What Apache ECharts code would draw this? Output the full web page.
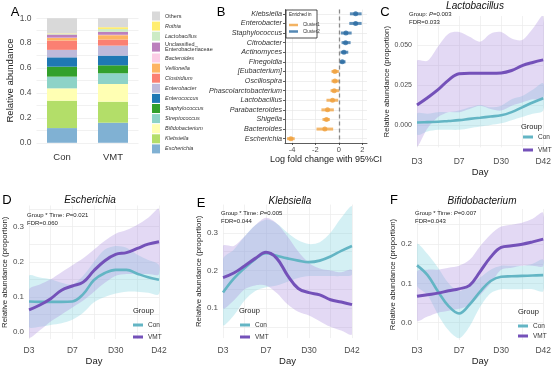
<!DOCTYPE html>
<html><head><meta charset="utf-8">
<script src="https://cdn.jsdelivr.net/npm/echarts@6/dist/echarts.min.js"></script>
<style>html,body{margin:0;padding:0;background:#fff}#c{width:554px;height:367px}</style>
</head><body><div id="c"></div>
<script>
// ---------- Panel A: stacked composition ----------
const groupsA = ['Con', 'VMT'];
const taxaA = ['Escherichia','Klebsiella','Bifidobacterium','Streptococcus','Staphylococcus','Enterococcus','Enterobacter','Clostridium','Veillonella','Bacteroides','Unclassified_Enterobacteriaceae','Lactobacillus','Rothia','Others'];
const conA = [0.118,0.220,0.099,0.094,0.080,0.075,0.060,0.075,0.020,0.003,0.025,0.004,0.005,0.122];
const vmtA = [0.161,0.169,0.142,0.086,0.064,0.078,0.080,0.049,0.035,0.003,0.024,0.022,0.015,0.072];
const paletteA = ['#80b1d3','#b3de69','#ffffb3','#8dd3c7','#33a02c','#1f78b4','#bebada','#fb8072','#fdb462','#fccde5','#bc80bd','#ccebc5','#ffed6f','#d9d9d9'];

// ---------- Panel B: log fold change ----------
const taxaB = ['Klebsiella','Enterobacter','Staphylococcus','Citrobacter','Actinomyces','Finegoldia','[Eubacterium]','Oscillospira','Phascolarctobacterium','Lactobacillus','Parabacteroides','Shigella','Bacteroides','Escherichia'];
const lfcB  = [1.43,1.43,0.60,0.57,0.43,0.29,-0.34,-0.34,-0.40,-0.54,-0.97,-1.06,-1.20,-4.10];
const lowB  = [0.94,0.89,0.17,0.23,0.14,0.03,-0.63,-0.63,-0.71,-1.06,-1.49,-1.40,-1.91,-4.43];
const highB = [1.94,1.94,1.09,1.00,0.80,0.57,0.00,0.03,0.03,-0.06,-0.43,-0.77,-0.49,-3.77];
const clusterB = ['Cluster2','Cluster2','Cluster2','Cluster2','Cluster2','Cluster2','Cluster1','Cluster1','Cluster1','Cluster1','Cluster1','Cluster1','Cluster1','Cluster1'];
const ticksB = [-4,-2,0,2];

// ---------- Panels C-F: smoothed trajectories ----------
const days = ['D3','D7','D30','D42'];
const xRead = [0,0.25,0.5,0.75,1,1.25,1.5,1.75,2,2.25,2.5,2.75,3];

const cConMean = [0.0015,0.0018,0.002,0.0025,0.003,0.0038,0.0045,0.0053,0.006,0.008,0.011,0.014,0.0167];
const cConLow  = [-0.006,-0.004,-0.003,-0.003,-0.003,-0.002,-0.001,0.000,0.001,0.003,0.005,0.007,0.009];
const cConHigh = [0.007,0.007,0.008,0.008,0.009,0.011,0.0125,0.011,0.012,0.016,0.018,0.022,0.026];
const cVmtMean = [0.0125,0.017,0.022,0.028,0.032,0.0323,0.0323,0.0323,0.0325,0.034,0.037,0.039,0.0406];
const cVmtLow  = [-0.013,-0.002,0.005,0.008,0.008,0.010,0.012,0.010,0.009,0.012,0.014,0.016,0.016];
const cVmtHigh = [0.040,0.040,0.049,0.057,0.058,0.055,0.052,0.057,0.058,0.054,0.053,0.060,0.068];

const dConMean = [0.087,0.086,0.086,0.086,0.087,0.108,0.148,0.168,0.177,0.177,0.166,0.156,0.149];
const dConLow  = [0.015,0.015,0.020,0.025,0.035,0.055,0.085,0.100,0.110,0.115,0.115,0.112,0.108];
const dConHigh = [0.160,0.155,0.150,0.140,0.135,0.160,0.200,0.235,0.245,0.240,0.220,0.205,0.190];
const dVmtMean = [0.063,0.077,0.095,0.119,0.131,0.142,0.175,0.203,0.221,0.226,0.238,0.250,0.257];
const dVmtLow  = [-0.015,0.005,0.030,0.050,0.070,0.090,0.115,0.140,0.160,0.165,0.165,0.165,0.165];
const dVmtHigh = [0.120,0.135,0.150,0.170,0.190,0.210,0.235,0.260,0.280,0.290,0.305,0.325,0.350];

const eConMean = [0.141,0.178,0.206,0.230,0.246,0.239,0.232,0.226,0.222,0.226,0.237,0.252,0.265];
const eConLow  = [0.055,0.080,0.120,0.145,0.155,0.160,0.170,0.180,0.185,0.185,0.185,0.185,0.190];
const eConHigh = [0.230,0.255,0.290,0.320,0.335,0.325,0.300,0.280,0.270,0.275,0.300,0.340,0.370];
const eVmtMean = [0.181,0.193,0.212,0.232,0.248,0.232,0.187,0.152,0.141,0.135,0.122,0.116,0.109];
const eVmtLow  = [0.100,0.120,0.150,0.160,0.160,0.140,0.110,0.090,0.080,0.065,0.050,0.040,0.030];
const eVmtHigh = [0.265,0.265,0.290,0.320,0.340,0.325,0.290,0.250,0.220,0.205,0.200,0.195,0.200];

const fConMean = [0.146,0.121,0.079,0.042,0.023,0.046,0.079,0.106,0.117,0.118,0.119,0.120,0.121];
const fConLow  = [0.095,0.070,0.020,-0.020,-0.040,-0.010,0.040,0.075,0.085,0.085,0.085,0.085,0.080];
const fConHigh = [0.200,0.175,0.140,0.100,0.080,0.095,0.115,0.135,0.145,0.145,0.145,0.150,0.160];
const fVmtMean = [0.067,0.071,0.075,0.081,0.086,0.095,0.130,0.167,0.192,0.196,0.200,0.206,0.213];
const fVmtLow  = [0.005,0.015,0.025,0.030,0.035,0.045,0.070,0.100,0.135,0.140,0.145,0.145,0.145];
const fVmtHigh = [0.130,0.135,0.135,0.140,0.145,0.160,0.195,0.225,0.245,0.250,0.255,0.265,0.280];

// ---------- styles ----------
const FONT = 'Liberation Sans, Arial, sans-serif';
const CON = '#63b5c4', VMTC = '#7451b9';
const CON_BAND = 'rgba(120,208,222,0.32)', VMT_BAND = 'rgba(168,138,220,0.32)';
const ORANGE = '#f0a03c', BLUE = '#2b6ca3';
const GRIDC = '#ebebeb';

const chart = echarts.init(document.getElementById('c'), null, {renderer: 'canvas'});

const panels = {
  C: {g: 2, left: 417, width: 128, top: 16, height: 131.4, min: -0.014, max: 0.068, major: [0, 0.025, 0.05], minor: [-0.0125, 0.0125, 0.0375, 0.0625], dec: 3, ylfs: 7, lm: 10, dayGap: 15, nameGap: 24},
  D: {g: 3, left: 28, width: 131, top: 205.5, height: 135.6, min: -0.02, max: 0.36, major: [0, 0.1, 0.2, 0.3], minor: [0.05, 0.15, 0.25, 0.35], dec: 1, ylfs: 8, lm: 7, dayGap: 14, nameGap: 18},
  E: {g: 4, left: 223, width: 129, top: 204.6, height: 136, min: 0.02, max: 0.375, major: [0.1, 0.2, 0.3], minor: [0.05, 0.15, 0.25, 0.35], dec: 1, ylfs: 8, lm: 8, dayGap: 14, nameGap: 18},
  F: {g: 5, left: 417, width: 128, top: 209, height: 134, min: -0.045, max: 0.29, major: [0, 0.1, 0.2], minor: [0.05, 0.15, 0.25], dec: 1, ylfs: 8, lm: 6, dayGap: 12, nameGap: 17}
};

const grids = [
  {left: 36.5, width: 102, top: 12, height: 137},
  {left: 285, width: 82, top: 9.5, height: 133.5}
];
const xAxes = [
  {gridIndex: 0, type: 'category', data: groupsA, axisLine: {show: false}, axisTick: {show: false},
   axisLabel: {fontSize: 9.5, color: '#333', margin: 3, fontFamily: FONT}, splitLine: {show: false}},
  {gridIndex: 1, type: 'value', min: -4.6, max: 2.4,
   axisLabel: {customValues: ticksB, fontSize: 7.5, color: '#4d4d4d', margin: 3, fontFamily: FONT},
   axisTick: {customValues: ticksB, length: 2, lineStyle: {color: '#333', width: 0.8}},
   axisLine: {show: true, onZero: false, lineStyle: {color: '#333', width: 0.8}},
   splitLine: {show: true, lineStyle: {color: '#e4e4e4', width: 0.6}},
   name: 'Log fold change with 95%CI', nameLocation: 'middle', nameGap: 11,
   nameTextStyle: {fontSize: 9, color: '#222', fontFamily: FONT}}
];
const yAxes = [
  {gridIndex: 0, type: 'value', min: -0.05, max: 1.05,
   axisLabel: {customValues: [0, 0.2, 0.4, 0.6, 0.8, 1], formatter: v => v.toFixed(1), fontSize: 8.5, color: '#4d4d4d', margin: 5, fontFamily: FONT},
   axisTick: {show: false, customValues: [0, 0.1, 0.2, 0.3, 0.4, 0.5, 0.6, 0.7, 0.8, 0.9, 1]},
   axisLine: {show: false}, splitLine: {show: true, lineStyle: {color: GRIDC, width: 0.7}},
   name: 'Relative abundance', nameLocation: 'middle', nameGap: 18,
   nameTextStyle: {fontSize: 9.5, color: '#222', fontFamily: FONT}},
  {gridIndex: 1, type: 'value', inverse: true, min: 0.55, max: 14.45,
   axisLabel: {customValues: taxaB.map((_, i) => i + 1), formatter: v => taxaB[Math.round(v) - 1],
               fontSize: 7.2, fontStyle: 'italic', color: '#333', margin: 3, fontFamily: FONT},
   axisTick: {customValues: taxaB.map((_, i) => i + 1), length: 2, lineStyle: {color: '#333', width: 0.8}},
   axisLine: {show: true, onZero: false, lineStyle: {color: '#333', width: 0.8}},
   splitLine: {show: true, lineStyle: {color: '#e4e4e4', width: 0.6}}}
];

Object.keys(panels).forEach(k => {
  const p = panels[k];
  grids.push({left: p.left, width: p.width, top: p.top, height: p.height});
  xAxes.push({gridIndex: p.g, type: 'value', min: 0, max: 3,
    axisLabel: {customValues: [0, 1, 2, 3], formatter: v => days[Math.round(v)], fontSize: 8.5, color: '#4d4d4d', margin: p.lm, fontFamily: FONT},
    axisTick: {show: false, customValues: [0, 0.5, 1, 1.5, 2, 2.5, 3]},
    axisLine: {show: false}, splitLine: {show: true, lineStyle: {color: GRIDC, width: 0.7}},
    name: 'Day', nameLocation: 'middle', nameGap: p.dayGap, nameTextStyle: {fontSize: 9.5, color: '#222', fontFamily: FONT}});
  yAxes.push({gridIndex: p.g, type: 'value', min: p.min, max: p.max,
    axisLabel: {customValues: p.major, formatter: v => v.toFixed(p.dec), fontSize: p.ylfs, color: '#4d4d4d', margin: 5, fontFamily: FONT},
    axisTick: {show: false, customValues: p.major.concat(p.minor).sort((a, b) => a - b)},
    axisLine: {show: false}, splitLine: {show: true, lineStyle: {color: GRIDC, width: 0.7}},
    name: 'Relative abundance (proportion)', nameLocation: 'middle', nameGap: p.nameGap,
    nameTextStyle: {fontSize: 7.8, color: '#222', fontFamily: FONT}});
});

const series = [];
taxaA.forEach((t, i) => {
  series.push({type: 'bar', name: t, stack: 'A', xAxisIndex: 0, yAxisIndex: 0, barWidth: 30,
    data: [conA[i], vmtA[i]], itemStyle: {color: paletteA[i]}, color: paletteA[i], silent: true});
});
['Cluster1', 'Cluster2'].forEach(cl => {
  const col = cl === 'Cluster1' ? ORANGE : BLUE;
  const rows = [];
  taxaB.forEach((t, i) => { if (clusterB[i] === cl) rows.push([lfcB[i], i + 1, lowB[i], highB[i]]); });
  series.push({type: 'custom', name: cl + ' CI', xAxisIndex: 1, yAxisIndex: 1, silent: true,
    encode: {x: [0, 2, 3], y: 1}, data: rows,
    renderItem: (params, api) => {
      const y = api.value(1);
      const a = api.coord([api.value(2), y]);
      const b = api.coord([api.value(3), y]);
      return {type: 'line', shape: {x1: a[0], y1: a[1], x2: b[0], y2: b[1]},
              style: {stroke: col, lineWidth: 3, opacity: 0.75, lineCap: 'butt'}};
    }});
  series.push({type: 'scatter', name: cl, xAxisIndex: 1, yAxisIndex: 1, symbol: 'circle', symbolSize: 5,
    data: rows.map(r => [r[0], r[1]]), itemStyle: {color: col}, color: col, silent: true,
    markLine: cl === 'Cluster1' ? {silent: true, symbol: 'none', label: {show: false},
      lineStyle: {color: '#8a8a8a', type: [4, 3], width: 1.3}, data: [{xAxis: 0}]} : undefined});
});
function addBand(g, lo, hi, color) {
  series.push({type: 'custom', xAxisIndex: g, yAxisIndex: g, silent: true, clip: true,
    encode: {x: 0, y: [1, 2]},
    data: xRead.map((x, i) => [x, lo[i], hi[i]]),
    renderItem: (params, api) => {
      if (params.dataIndexInside !== 0) return null;
      const n = xRead.length, pts = [];
      for (let j = 0; j < n; j++) pts.push(api.coord([api.value(0, j), api.value(2, j)]));
      for (let j = n - 1; j >= 0; j--) pts.push(api.coord([api.value(0, j), api.value(1, j)]));
      return {type: 'polygon', shape: {points: pts, smooth: 0.3}, style: {fill: color}};
    }});
}
function addLine(name, g, mean, color, w) {
  series.push({type: 'line', name: name, xAxisIndex: g, yAxisIndex: g, data: xRead.map((x, i) => [x, mean[i]]),
    symbol: 'none', smooth: 0.4, color: color, itemStyle: {color: color}, lineStyle: {color: color, width: w}, silent: true});
}
const lineSets = {
  C: [cConMean, cConLow, cConHigh, cVmtMean, cVmtLow, cVmtHigh],
  D: [dConMean, dConLow, dConHigh, dVmtMean, dVmtLow, dVmtHigh],
  E: [eConMean, eConLow, eConHigh, eVmtMean, eVmtLow, eVmtHigh],
  F: [fConMean, fConLow, fConHigh, fVmtMean, fVmtLow, fVmtHigh]
};
Object.keys(lineSets).forEach(k => {
  const g = panels[k].g, s = lineSets[k];
  addBand(g, s[1], s[2], CON_BAND);
  addBand(g, s[4], s[5], VMT_BAND);
});
Object.keys(lineSets).forEach(k => {
  const g = panels[k].g, s = lineSets[k];
  addLine('Con', g, s[0], CON, 2.6);
  addLine('VMT', g, s[3], VMTC, 3);
});

const legA = {
  data: taxaA.slice().reverse(), orient: 'vertical', left: 152, top: 11.5, itemWidth: 8, itemHeight: 9, itemGap: 1.1,
  icon: 'rect', selectedMode: false, padding: 0,
  formatter: n => n === 'Others' ? '{n|Others}' : (n.indexOf('Unclassified') === 0 ? '{n|Unclassified_}\n{n|Enterobacteriaceae}' : '{i|' + n + '}'),
  textStyle: {fontSize: 5.5, color: '#333', lineHeight: 4.6, fontFamily: FONT,
    rich: {n: {fontSize: 5.5, lineHeight: 4.6, color: '#333', fontFamily: FONT}, i: {fontSize: 5.5, lineHeight: 4.6, fontStyle: 'italic', color: '#333', fontFamily: FONT}}}
};
const legB = {
  data: ['Cluster1', 'Cluster2'], orient: 'vertical', left: 289, top: 22.5, itemWidth: 9, itemHeight: 2.5, itemGap: 1.5,
  icon: 'rect', selectedMode: false, padding: 0, z: 6,
  textStyle: {fontSize: 4.5, color: '#333', lineHeight: 5, fontFamily: FONT}
};
function legLine(left, top, gap) {
  return {data: ['Con', 'VMT'], orient: 'vertical', left: left, top: top, itemWidth: 10, itemHeight: 3, itemGap: gap,
    icon: 'rect', selectedMode: false, padding: 0,
    textStyle: {fontSize: 6.5, color: '#333', lineHeight: 8, fontFamily: FONT}};
}
const legends = [legA, legB, legLine(523, 133, 5), legLine(133, 321, 4), legLine(240, 321, 4), legLine(518, 322, 2)];

const g = [];
function T(x, y, text, o) {
  o = o || {};
  g.push({type: 'text', x: x, y: y, z: 10, silent: true, style: Object.assign({
    text: text, fill: '#111', fontFamily: FONT, fontSize: 7, align: 'left', verticalAlign: 'middle'}, o)});
}
function annot(x, y, pre, pval, fdr) {
  T(x, y, '{n|' + pre + '}{i|P}{n|=' + pval + '}', {rich: {n: {fontSize: 6, fill: '#222', fontFamily: FONT}, i: {fontSize: 6, fontStyle: 'italic', fill: '#222', fontFamily: FONT}}});
  T(x, y + 8, 'FDR=' + fdr, {fontSize: 6, fill: '#222'});
}
g.push({type: 'rect', z: 5, silent: true, shape: {x: 286, y: 10, width: 31, height: 28},
  style: {fill: '#fff', stroke: '#222', lineWidth: 0.8}});
T(289, 14.5, 'Enriched in', {fontSize: 4.5, fill: '#222'});
T(15, 12, 'A', {fontSize: 13, align: 'center', fill: '#000'});
T(221, 12, 'B', {fontSize: 13, align: 'center', fill: '#000'});
T(385, 12, 'C', {fontSize: 13, align: 'center', fill: '#000'});
T(7, 200, 'D', {fontSize: 13, align: 'center', fill: '#000'});
T(201, 203, 'E', {fontSize: 13, align: 'center', fill: '#000'});
T(394, 200, 'F', {fontSize: 13, align: 'center', fill: '#000'});
T(475, 6, 'Lactobacillus', {fontSize: 10, fontStyle: 'italic', align: 'center', fill: '#111'});
T(90, 200, 'Escherichia', {fontSize: 10, fontStyle: 'italic', align: 'center', fill: '#111'});
T(290, 201, 'Klebsiella', {fontSize: 10, fontStyle: 'italic', align: 'center', fill: '#111'});
T(482, 201, 'Bifidobacterium', {fontSize: 10, fontStyle: 'italic', align: 'center', fill: '#111'});
annot(409, 14, 'Group: ', '0.003', '0.033');
annot(27, 215, 'Group * Time: ', '0.021', '0.060');
annot(221, 213, 'Group * Time: ', '0.005', '0.044');
annot(415, 213, 'Group * Time: ', '0.007', '0.043');
T(521, 127, 'Group', {fontSize: 7.5, fill: '#222'});
T(133, 311, 'Group', {fontSize: 7.5, fill: '#222'});
T(239, 311, 'Group', {fontSize: 7.5, fill: '#222'});
T(518, 312, 'Group', {fontSize: 7.5, fill: '#222'});

chart.setOption({
  animation: false,
  backgroundColor: '#fff',
  textStyle: {fontFamily: FONT},
  grid: grids, xAxis: xAxes, yAxis: yAxes,
  legend: legends, graphic: g, series: series
});
</script></body></html>
